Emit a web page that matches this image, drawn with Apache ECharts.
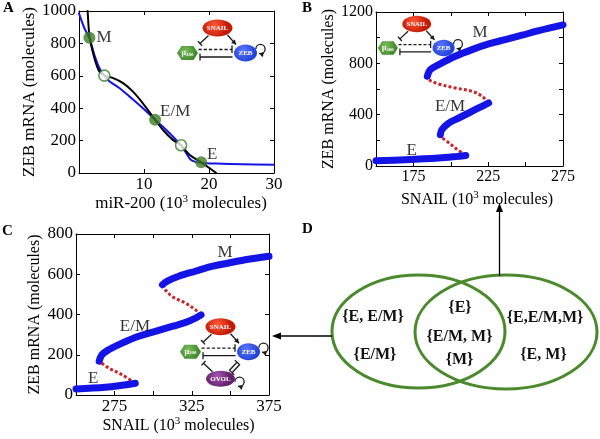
<!DOCTYPE html>
<html><head><meta charset="utf-8">
<script src="https://cdn.jsdelivr.net/npm/echarts@6/dist/echarts.min.js"></script>
<style>html,body{margin:0;padding:0;background:#fff}#c{width:600px;height:439px}</style>
</head><body><div id="c"></div>
<script>
// ---------------- DATA ----------------
// Panel A
const aXLabels = [10, 20, 30];
const aYLabels = [0, 200, 400, 600, 800, 1000];
const aZebNullcline = [[0,985],[0.82,895],[1.59,833],[2.36,730],[3.13,648],[3.9,601],[4.67,566],[6.2,525],[7.74,473],[9.8,401],[11.7,329],[13.4,267],[14.9,206],[15.7,171],[16.5,123],[17.2,82],[18,68],[19,62],[21.1,58],[25.2,54],[30,51]];
const aMirNullcline = [[1.33,1000],[1.49,895],[1.65,833],[2.36,710],[3.13,626],[3.9,601],[5.18,587],[6.72,556],[8.26,504],[9.8,432],[11.7,329],[12.9,267],[14.4,206],[15.7,171],[17.0,113],[18.8,66],[20.05,31],[21.1,0]];
const aStable = [[1.6,835],[11.7,329],[18.8,66]];
const aUnstable = [[3.9,601],[15.7,171]];
const aStateLabels = [[3.85,835,'M'],[14.8,377,'E/M'],[20.5,117,'E']];
// Panel B
const bXLabels = [175, 225, 275];
const bYLabels = [0, 400, 800, 1200];
const bLowStable = [[150,41],[169.6,49],[191.9,62],[203,73],[210,82]];
const bLowUnstable = [[210,82],[203,140],[197.5,192],[194,223],[193,244]];
const bMidStable = [[193,244],[194,283],[198.6,335],[205.3,374],[212,413],[218.6,452],[225.3,491]];
const bHighUnstable = [[225.3,491],[220.9,543],[214.2,582],[203,608],[191.9,639],[185.2,673],[184.3,699]];
const bHighStable = [[184.3,699],[186.3,751],[191.9,790],[203,855],[214.2,907],[225.3,951],[236.4,985],[247.6,1019],[258.8,1055],[275,1100]];
const bStateLabels = [[219.5,1037,'M'],[199.5,460,'E/M'],[173.9,124,'E']];
// Panel C
const cXLabels = [275, 325, 375];
const cYLabels = [0, 200, 400, 600, 800];
const cLowStable = [[250,30],[269,38],[279.8,48],[288.4,58]];
const cLowUnstable = [[288.4,58],[279.8,101],[271.2,134],[265,168]];
const cMidStable = [[265,168],[266.8,200],[271.2,225],[279.8,258],[290.6,292],[301.4,316],[312.2,341],[323,366],[331,398]];
const cHighUnstable = [[331,398],[327.3,424],[320.8,457],[312.2,490],[306.8,532],[306,548]];
const cHighStable = [[306,548],[308.9,565],[316.5,590],[327.3,615],[338,639],[348.9,656],[359.6,672],[375,689]];
const cStateLabels = [[346.5,707,'M'],[288.2,339,'E/M'],[261.2,82,'E']];
// Panel D
const vennLeftOnly = ['{E, E/M}', '{E/M}'];
const vennBoth = ['{E}', '{E/M, M}', '{M}'];
const vennRightOnly = ['{E,E/M,M}', '{E, M}'];

// ---------------- CHART ----------------
const FONT = 'Liberation Serif';
const BLUE = '#1414e6', RED = '#c8252a', GREEN = '#3d7a26';
const grids = [
  {left:79, top:11, width:195, height:162},
  {left:376, top:12, width:187, height:154},
  {left:76, top:234, width:193, height:161}
];
const xAxes = [], yAxes = [];
function axis(g, c, pos, main, isY) {
  return {
    type:'value', gridIndex:g, position:pos, min:c.min, max:c.max, interval:c.interval,
    axisLine:{show:true, onZero:false, lineStyle:{color:'#000', width:1}},
    axisTick:{show:true, inside:true, length:4, lineStyle:{color:'#000', width:1}},
    splitLine:{show:false},
    axisLabel: main ? {show:true, margin:c.margin, fontFamily:FONT, fontSize:c.fs, color:'#000',
      formatter: v => c.labels.indexOf(v) >= 0 ? String(v) : '', showMinLabel:true, showMaxLabel:true} : {show:false},
    name: main ? c.name : '', nameLocation:'middle', nameGap:c.gap, nameRotate: isY ? 90 : 0,
    nameTextStyle:{fontFamily:FONT, fontSize:c.nfs, color:'#000', padding:c.pad || 0,
      rich:{sup:{fontFamily:FONT, fontSize:11, color:'#000', padding:[0,0,8,0]}}}
  };
}
function addAxes(g, xc, yc) {
  xAxes.push(axis(g, xc, 'bottom', true, false), axis(g, xc, 'top', false, false));
  yAxes.push(axis(g, yc, 'left', true, true), axis(g, yc, 'right', false, true));
}
addAxes(0, {min:0, max:30, interval:10, labels:aXLabels, fs:17, margin:3, name:'miR-200 (10{sup|3} molecules)', gap:14, nfs:17, pad:[0,0,0,9]},
           {min:0, max:1000, interval:200, labels:aYLabels, fs:17, margin:3, name:'ZEB mRNA (molecules)', gap:31, nfs:17});
addAxes(1, {min:150, max:275, interval:25, labels:bXLabels, fs:16, margin:3, name:'SNAIL (10{sup|3} molecules)', gap:24, nfs:16, pad:[0,0,0,15]},
           {min:0, max:1200, interval:200, labels:bYLabels, fs:16, margin:3, name:'ZEB mRNA (molecules)', gap:32, nfs:16});
addAxes(2, {min:250, max:375, interval:25, labels:cXLabels, fs:17, margin:3, name:'SNAIL (10{sup|3} molecules)', gap:15, nfs:16, pad:[0,0,0,12]},
           {min:0, max:800, interval:200, labels:cYLabels, fs:17, margin:3, name:'ZEB mRNA (molecules)', gap:33, nfs:16});

function line(g, data, color, width, dash, z) {
  return {type:'line', xAxisIndex:2*g, yAxisIndex:2*g, data:data, showSymbol:false, symbol:'none',
    smooth:0.35, z:z || 2, silent:true,
    lineStyle:{color:color, width:width, type: dash || 'solid', cap: dash ? 'butt' : 'round', join:'round'}};
}
function stateLabels(g, data) {
  return {type:'scatter', xAxisIndex:2*g, yAxisIndex:2*g, data:data, symbolSize:1, z:6, silent:true,
    itemStyle:{color:'rgba(0,0,0,0)'},
    label:{show:true, position:'inside', formatter: p => p.data[2], fontFamily:FONT, fontSize:17, color:'#000'}};
}
const DOT = [3, 2.2];
const series = [
  line(0, aZebNullcline, BLUE, 2),
  line(0, aMirNullcline, '#000', 2),
  {type:'scatter', xAxisIndex:0, yAxisIndex:0, data:aStable, symbolSize:12, z:5, itemStyle:{color:GREEN}},
  {type:'scatter', xAxisIndex:0, yAxisIndex:0, data:aUnstable, symbolSize:11, z:5, itemStyle:{color:'#fff', borderColor:GREEN, borderWidth:1.6}},
  stateLabels(0, aStateLabels),
  line(1, bLowUnstable, RED, 3, DOT), line(1, bHighUnstable, RED, 3, DOT),
  line(1, bLowStable, BLUE, 7), line(1, bMidStable, BLUE, 7), line(1, bHighStable, BLUE, 7),
  stateLabels(1, bStateLabels),
  line(2, cLowUnstable, RED, 3, DOT), line(2, cHighUnstable, RED, 3, DOT),
  line(2, cLowStable, BLUE, 7), line(2, cMidStable, BLUE, 7), line(2, cHighStable, BLUE, 7),
  stateLabels(2, cStateLabels)
];

// ---------- network insets (decoration) ----------
function grad(c0, c1) {
  return {type:'radial', x:0.4, y:0.35, r:0.75, colorStops:[{offset:0, color:c0}, {offset:1, color:c1}]};
}
function netGroup(pos, sc, ovol) {
  const ch = [];
  const K = '#1a1a1a';
  const ln = (pts, dash) => ({type:'polyline', shape:{points:pts}, style:{stroke:K, lineWidth:1.3, fill:null, lineDash: dash ? [3.2,2] : null}});
  const head = (p, ang) => { const L=4.5, W=2.6, c=Math.cos(ang), s=Math.sin(ang);
    return {type:'polygon', shape:{points:[[p[0],p[1]],[p[0]-L*c+W*s, p[1]-L*s-W*c],[p[0]-L*c-W*s, p[1]-L*s+W*c]]}, style:{fill:K}}; };
  const bar = (p, ang) => { const W=3, s=Math.sin(ang), c=Math.cos(ang);
    return ln([[p[0]+W*s, p[1]-W*c],[p[0]-W*s, p[1]+W*c]]); };
  const inh = (a, b) => { const ang = Math.atan2(b[1]-a[1], b[0]-a[0]); ch.push(ln([a,b]), bar(b, ang)); };
  const arr = (a, b) => { const ang = Math.atan2(b[1]-a[1], b[0]-a[0]); ch.push(ln([a,b]), head(b, ang)); };
  const loop = (cx, cy) => {
    const r = 4.6, s0 = Math.PI*1.0, s1 = Math.PI*2.6;
    ch.push({type:'arc', shape:{cx:cx, cy:cy, r:r, startAngle:s0, endAngle:s1, clockwise:true}, style:{stroke:K, lineWidth:1.3, fill:null}});
    const ex = cx + r*Math.cos(s1), ey = cy + r*Math.sin(s1);
    ch.push(head([ex, ey], Math.atan2(Math.cos(s1), -Math.sin(s1))));
  };
  const txt = (x, y, t, rich) => ({type:'text', z:10, style:{text:t, x:x, y:y, align:'center', verticalAlign:'middle', fill:'#fff',
    font:'bold 7px ' + FONT, rich: rich}});
  inh([-9,7.5], [-17.5,15.5]);
  arr([10,7], [18.5,16.5]);
  ch.push(ln([[-19,21.5],[14.5,21.5]], true), ln([[14.5,17.5],[14.5,25]]));
  ch.push(ln([[15,29],[-17.5,29]]), ln([[-17.5,25.5],[-17.5,32.5]]));
  loop(43, 21);
  if (ovol) {
    inh([-8,45], [-17,36.5]);
    inh([8.5,44], [16.5,35.5]);
    inh([19.5,37.5], [11.5,46]);
    loop(19, 55);
  }
  ch.push({type:'ellipse', shape:{cx:0, cy:0, rx:15, ry:8.5}, style:{fill:grad('#ff5a3a','#c41a05')}});
  ch.push(txt(0, 0.5, 'SNAIL'));
  ch.push({type:'polygon', shape:{points:[[-40.5,25],[-36,18],[-24,18],[-19.5,25],[-24,32],[-36,32]]}, style:{fill:grad('#7fbf5c','#3e8a2c')}});
  ch.push(txt(-30, 25, '{m|μ}{s|200}', {m:{fill:'#fff', font:'bold 8px ' + FONT}, s:{fill:'#fff', font:'bold 5px ' + FONT, padding:[3,0,0,0]}}));
  ch.push({type:'ellipse', shape:{cx:28, cy:25, rx:11.5, ry:8.5}, style:{fill:grad('#5a78ff','#1f3fd6')}});
  ch.push(txt(28, 25.5, 'ZEB'));
  if (ovol) {
    ch.push({type:'ellipse', shape:{cx:0, cy:52, rx:14.5, ry:8}, style:{fill:grad('#a058b0','#66206e')}});
    ch.push(txt(0, 52.5, 'OVOL'));
  }
  return {type:'group', x:pos[0], y:pos[1], scaleX:sc, scaleY:sc, z:20, children:ch};
}
function letter(x, y, t) {
  return {type:'text', z:30, style:{text:t, x:x, y:y, align:'left', verticalAlign:'middle', fill:'#000', font:'bold 15px ' + FONT}};
}
function vtext(x, y, t) {
  return {type:'text', z:30, style:{text:t, x:x, y:y, align:'center', verticalAlign:'middle', fill:'#111', font:'bold 16px ' + FONT}};
}
const VG = '#4a8a2c';
const graphic = [
  letter(3, 8, 'A'), letter(302, 8, 'B'), letter(2, 231, 'C'), letter(302, 229, 'D'),
  netGroup([217.5, 28], 1, false),
  netGroup([416.7, 24], 0.96, false),
  netGroup([220.5, 326.7], 1, true),
  {type:'ellipse', z:25, shape:{cx:418.5, cy:331.5, rx:86.5, ry:56.5}, style:{stroke:VG, lineWidth:3, fill:null}},
  {type:'ellipse', z:25, shape:{cx:506, cy:332, rx:91, ry:57}, style:{stroke:VG, lineWidth:3, fill:null}},
  vtext(373, 317, vennLeftOnly[0]), vtext(375, 355, vennLeftOnly[1]),
  vtext(460, 308, vennBoth[0]), vtext(459.5, 336.5, vennBoth[1]), vtext(459.5, 360, vennBoth[2]),
  vtext(545, 318, vennRightOnly[0]), vtext(543.5, 355, vennRightOnly[1]),
  {type:'line', z:25, shape:{x1:499.5, y1:276, x2:499.5, y2:209}, style:{stroke:'#000', lineWidth:1.3}},
  {type:'polygon', z:25, shape:{points:[[499.5,203],[496,212],[503,212]]}, style:{fill:'#000'}},
  {type:'line', z:25, shape:{x1:332, y1:336, x2:279, y2:336}, style:{stroke:'#000', lineWidth:1.3}},
  {type:'polygon', z:25, shape:{points:[[272,336],[281,332.5],[281,339.5]]}, style:{fill:'#000'}}
];

const chart = echarts.init(document.getElementById('c'), null, {renderer:'canvas'});
chart.setOption({
  animation:false, backgroundColor:'#fff',
  grid: grids, xAxis: xAxes, yAxis: yAxes, series: series, graphic: graphic
});
</script>
</body></html>
